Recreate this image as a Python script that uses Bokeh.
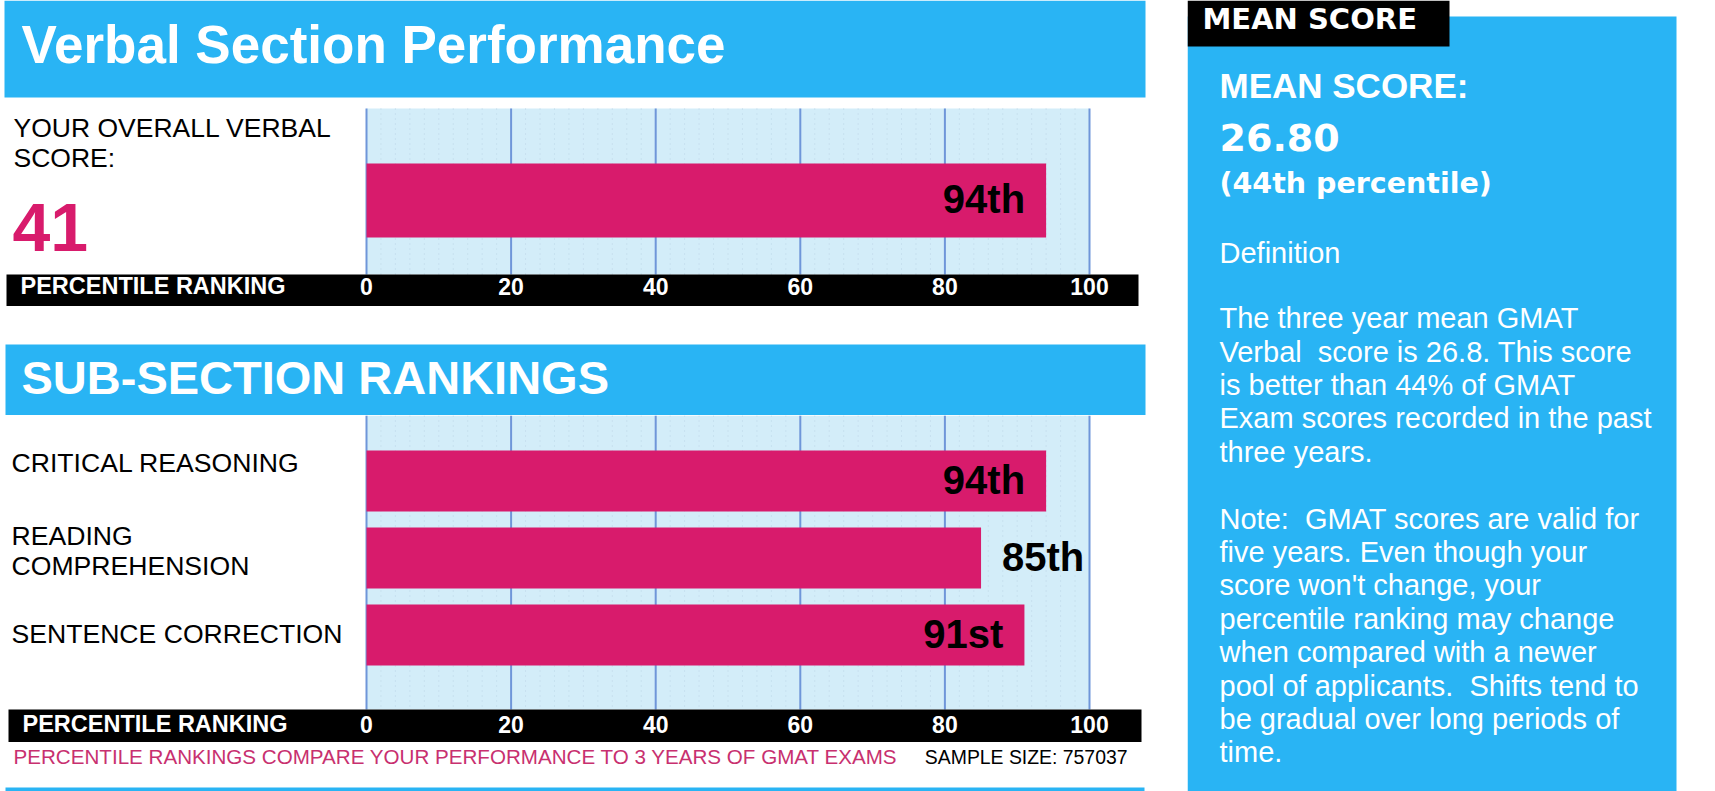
from bokeh.plotting import figure
from bokeh.models import Range1d
from bokeh.layouts import column, row
from bokeh.embed import file_html
from bokeh.resources import INLINE
from bokeh.core.properties import value
import numpy as np

# ---------------- data ----------------
title_main = "Verbal Section Performance"
title_sub = "SUB-SECTION RANKINGS"
overall_label = ["YOUR OVERALL VERBAL", "SCORE:"]
overall_score = 41
overall_pct = [94]
overall_pct_labels = ["94th"]
sub_categories = [["CRITICAL REASONING"], ["READING", "COMPREHENSION"], ["SENTENCE CORRECTION"]]
sub_pct = [94, 85, 91]
sub_pct_labels = ["94th", "85th", "91st"]
tick_values = [0, 20, 40, 60, 80, 100]
tick_labels = ["0", "20", "40", "60", "80", "100"]
axis_title = "PERCENTILE RANKING"
footnote = "PERCENTILE RANKINGS COMPARE YOUR PERFORMANCE TO 3 YEARS OF GMAT EXAMS"
sample_size = 757037
mean_score = 26.80
mean_percentile = 44

# ---------------- style ----------------
BLUE = "#29B4F4"
PINK = "#D81B6C"
FOOT_PINK = "#C8306F"
LIGHT = "#D3EDF9"
GRID = "#6F96D9"
DOT = "#BCD5E6"
LS = "Liberation Sans"
DJ = "DejaVu Sans"
NB = "\u00a0"
MID = 0.355  # text is laid out on the middle of its em box

W_L = 1187
W_R = 528
X0_PX, X100_PX = 366, 1089


def canvas(w, h):
    p = figure(width=w, height=h, x_range=Range1d(0, w), y_range=Range1d(h, 0),
               output_backend="svg", toolbar_location=None, min_border=0,
               x_axis_location=None, y_axis_location=None)
    p.outline_line_color = None
    for g in p.grid:
        g.visible = False
    p.background_fill_color = "white"
    p.border_fill_color = "white"
    return p


def txt(p, x, y, s, size, color, font=LS, bold=False, align="left"):
    p.text(x=[x], y=[y - MID * size], text=[s], text_font=value(font), text_font_size=f"{size}px",
           text_color=color, text_font_style="bold" if bold else "normal",
           text_align=align, text_baseline="middle")


def pct_range(w):
    scale = (X100_PX - X0_PX) / 100.0
    return Range1d(-X0_PX / scale, (w - X0_PX) / scale)


def chart(h, plot_top, plot_bottom, first_center, pitch, bar_h, band_left, band_right,
          vals, labels, outside, tick_base, title_x):
    p = canvas(W_L, h)
    p.extra_x_ranges = {"pct": pct_range(W_L)}
    p.extra_y_ranges = {"bar": Range1d((h - first_center) / pitch, -first_center / pitch)}
    p.quad(left=[0], right=[100], top=[plot_top], bottom=[plot_bottom], x_range_name="pct",
           fill_color=LIGHT, line_color=None)
    minor = [v for v in np.arange(2, 100, 2) if v % 20 != 0]
    p.segment(x0=minor, x1=minor, y0=plot_top, y1=plot_bottom, x_range_name="pct",
              line_color=DOT, line_dash="1 4", line_width=1)
    p.segment(x0=tick_values, x1=tick_values, y0=plot_top, y1=plot_bottom, x_range_name="pct",
              line_color=GRID, line_width=2)
    idx = list(range(len(vals)))
    p.hbar(y=idx, left=0, right=vals, height=bar_h / pitch, x_range_name="pct", y_range_name="bar",
           fill_color=PINK, line_color=None)
    fs = 40
    for i, (v, lab, out) in enumerate(zip(vals, labels, outside)):
        p.text(x=[v], y=[i], text=[lab], x_range_name="pct", y_range_name="bar",
               x_offset=21 if out else -21, y_offset=13 - MID * fs,
               text_align="left" if out else "right", text_baseline="middle",
               text_font=value(LS), text_font_style="bold", text_font_size=f"{fs}px",
               text_color="black")
    # black band with the percentile scale
    p.quad(left=[band_left], right=[band_right], top=[plot_bottom], bottom=[h],
           fill_color="black", line_color=None)
    tfs = 23
    p.text(x=tick_values, y=[tick_base - MID * tfs] * len(tick_values), text=tick_labels,
           x_range_name="pct", text_align="center", text_baseline="middle",
           text_font=value(LS), text_font_style="bold", text_font_size=f"{tfs}px",
           text_color="white")
    txt(p, title_x, tick_base, axis_title, 23.5, "white", bold=True)
    return p


# header 1  (page y 0..98)
h1 = canvas(W_L, 98)
h1.quad(left=[4], right=[1145], top=[0], bottom=[97], fill_color=BLUE, line_color=None)
txt(h1, 21, 63, title_main, 53, "white", bold=True)

# chart 1  (page y 98..306)
p1 = chart(208, 10, 176, 102, 77, 74, 6, 1138, overall_pct, overall_pct_labels, [False], 196, 20)
txt(p1, 13, 39, overall_label[0], 26.5, "black")
txt(p1, 13, 69, overall_label[1], 26.5, "black")
txt(p1, 12, 153, str(overall_score), 68, PINK, bold=True)

# header 2  (page y 306..415)
h2 = canvas(W_L, 109)
h2.quad(left=[5], right=[1145], top=[38], bottom=[109], fill_color=BLUE, line_color=None)
txt(h2, 21, 88, title_sub, 47, "white", bold=True)

# chart 2  (page y 415..742)
p2 = chart(327, 0, 294, 65.5, 77, 61, 8, 1141, sub_pct, sub_pct_labels, [False, True, False], 317, 22)
cat_baselines = [[57], [130, 160], [228]]
for lines, ys in zip(sub_categories, cat_baselines):
    for line, yy in zip(lines, ys):
        txt(p2, 11, yy, line, 26.6, "black")

# footer  (page y 742..791)
ft = canvas(W_L, 49)
txt(ft, 13, 21, footnote, 20.6, FOOT_PINK)
txt(ft, 1127, 21, f"SAMPLE SIZE: {sample_size}", 19.4, "black", align="right")
ft.quad(left=[5], right=[1144], top=[45], bottom=[49], fill_color=BLUE, line_color=None)

# right panel  (page x 1187..1715)
rp = canvas(W_R, 791)
rp.quad(left=[0], right=[489], top=[16], bottom=[791], fill_color=BLUE, line_color=None)
rp.quad(left=[0], right=[262], top=[0], bottom=[46], fill_color="black", line_color=None)
txt(rp, 15, 29, "MEAN SCORE", 29, "white", font=DJ, bold=True)
txt(rp, 32, 97, "MEAN SCORE:", 35, "white", bold=True)
txt(rp, 32, 150, f"{mean_score:.2f}", 38, "white", font=DJ, bold=True)
txt(rp, 32, 193, f"({mean_percentile}th percentile)", 28.5, "white", font=DJ, bold=True)
txt(rp, 32, 263, "Definition", 29, "white")
body = [
    "The three year mean GMAT",
    f"Verbal{NB} score is {mean_score:.1f}. This score",
    f"is better than {mean_percentile}% of GMAT",
    "Exam scores recorded in the past",
    "three years.",
    "",
    f"Note:{NB} GMAT scores are valid for",
    "five years. Even though your",
    "score won't change, your",
    "percentile ranking may change",
    "when compared with a newer",
    f"pool of applicants.{NB} Shifts tend to",
    "be gradual over long periods of",
    "time.",
]
for i, line in enumerate(body):
    if line:
        txt(rp, 32, 328 + 33.4 * i, line, 29, "white")

left = column(h1, p1, h2, p2, ft, spacing=0)
layout = row(left, rp, spacing=0)

open("out.html", "w").write(file_html(layout, INLINE))
